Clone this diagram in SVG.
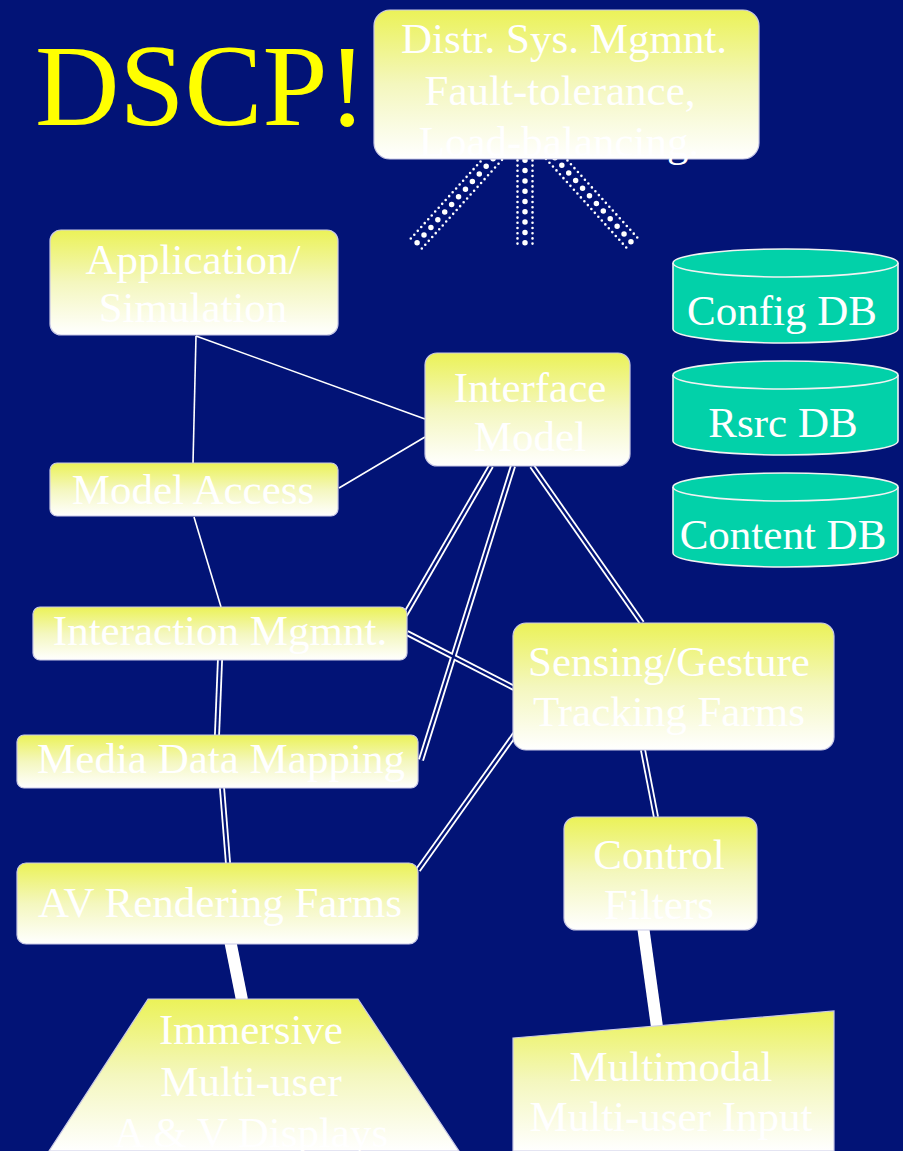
<svg xmlns="http://www.w3.org/2000/svg" width="903" height="1151" viewBox="0 0 903 1151">
  <defs>
    <linearGradient id="fade" x1="0" y1="0" x2="0" y2="1">
      <stop offset="0" stop-color="#EBF258"/>
      <stop offset="0.5" stop-color="#F4F7BE"/>
      <stop offset="1" stop-color="#FFFFFF"/>
    </linearGradient>
    <style>
      .node { fill: url(#fade); stroke: #C9C9E6; stroke-width: 1.2; }
      .lbl { font-family: "Liberation Serif", "Times New Roman", serif; font-size: 43px; fill: #FFFFFF; text-anchor: middle; }
      .db { fill: #02D1A9; stroke: #F2F2F2; stroke-width: 1.6; }
      .thin { stroke: #FFFFFF; stroke-width: 1.6; fill: none; }
      .dbl-out { stroke: #FFFFFF; stroke-width: 6; fill: none; }
      .dbl-in { stroke: #021376; stroke-width: 2.4; fill: none; }
      .bar { stroke: #FFFFFF; stroke-width: 12; fill: none; }
      .dot-big { stroke: #FFFFFF; stroke-width: 5.5; stroke-linecap: round; stroke-dasharray: 0 10.3; fill: none; }
      .dot-small { stroke: #FFFFFF; stroke-width: 2.6; stroke-linecap: round; stroke-dasharray: 0 5.2; fill: none; }
    </style>
  </defs>

  <rect x="0" y="0" width="903" height="1151" fill="#021376"/>

  <text x="35" y="125" font-family="'Liberation Serif', 'Times New Roman', serif" font-size="117" fill="#FFFF00">DSCP!</text>

  <g id="connectors">
    <!-- dotted ribbons below the management box -->
    <path class="dot-big" d="M500,151 L415,245"/>
    <path class="dot-small" d="M505.5,156 L420.5,250"/>
    <path class="dot-small" d="M494.5,146 L409.5,240"/>

    <path class="dot-big" d="M525,150 L525,246"/>
    <path class="dot-small" d="M517.5,150 L517.5,246"/>
    <path class="dot-small" d="M532.5,150 L532.5,246"/>

    <path class="dot-big" d="M548,150 L634,245"/>
    <path class="dot-small" d="M553.5,145 L639.5,240"/>
    <path class="dot-small" d="M542.5,155 L628.5,250"/>

    <!-- single lines -->
    <path class="thin" d="M196,336 L193,463"/>
    <path class="thin" d="M196,336 L425,419"/>
    <path class="thin" d="M339,488 L425,437"/>
    <path class="thin" d="M194,517 L221,607"/>

    <!-- double lines -->
    <g>
      <path class="dbl-out" d="M491,466 L405,615"/>
      <path class="dbl-out" d="M513,466 L421,760"/>
      <path class="dbl-out" d="M532,466 L642,623"/>
      <path class="dbl-out" d="M407,633 L514,688"/>
      <path class="dbl-out" d="M515,734 L418,870"/>
      <path class="dbl-out" d="M220,660 L217,735"/>
      <path class="dbl-out" d="M222,788 L228,863"/>
      <path class="dbl-out" d="M643,750 L656,817"/>
      <path class="dbl-in" d="M491,466 L405,615"/>
      <path class="dbl-in" d="M513,466 L421,760"/>
      <path class="dbl-in" d="M532,466 L642,623"/>
      <path class="dbl-in" d="M407,633 L514,688"/>
      <path class="dbl-in" d="M515,734 L418,870"/>
      <path class="dbl-in" d="M220,660 L217,735"/>
      <path class="dbl-in" d="M222,788 L228,863"/>
      <path class="dbl-in" d="M643,750 L656,817"/>
    </g>

    <!-- heavy links to output/input devices -->
    <path class="bar" d="M230,940 L242,1000"/>
    <path class="bar" d="M643,926 L657,1027"/>
  </g>

  <g id="distr-sys">
    <rect class="node" x="374" y="10" width="385" height="149" rx="16"/>
    <text class="lbl" x="564" y="53">Distr. Sys. Mgmnt.</text>
    <text class="lbl" x="560" y="105">Fault-tolerance,</text>
    <text class="lbl" x="559" y="156">Load-balancing.</text>
  </g>

  <g id="application">
    <rect class="node" x="50" y="230" width="288" height="105" rx="11"/>
    <text class="lbl" x="193" y="274">Application/</text>
    <text class="lbl" x="193" y="322">Simulation</text>
  </g>

  <g id="interface-model">
    <rect class="node" x="425" y="353" width="205" height="113" rx="12"/>
    <text class="lbl" x="530" y="402">Interface</text>
    <text class="lbl" x="530" y="451">Model</text>
  </g>

  <g id="model-access">
    <rect class="node" x="50" y="463" width="288" height="53" rx="7"/>
    <text class="lbl" x="193" y="504">Model Access</text>
  </g>

  <g id="interaction-mgmnt">
    <rect class="node" x="33" y="607" width="374" height="53" rx="7"/>
    <text class="lbl" x="220" y="645">Interaction Mgmnt.</text>
  </g>

  <g id="media-data-mapping">
    <rect class="node" x="17" y="735" width="401" height="53" rx="7"/>
    <text class="lbl" x="221" y="773">Media Data Mapping</text>
  </g>

  <g id="av-rendering">
    <rect class="node" x="17" y="863" width="401" height="81" rx="9"/>
    <text class="lbl" x="220" y="917">AV Rendering Farms</text>
  </g>

  <g id="sensing-gesture">
    <rect class="node" x="513" y="623" width="321" height="127" rx="13"/>
    <text class="lbl" x="669" y="676">Sensing/Gesture</text>
    <text class="lbl" x="669" y="726">Tracking Farms</text>
  </g>

  <g id="control-filters">
    <rect class="node" x="564" y="817" width="193" height="113" rx="12"/>
    <text class="lbl" x="659" y="869">Control</text>
    <text class="lbl" x="659" y="919">Filters</text>
  </g>

  <g id="av-displays">
    <polygon class="node" points="148,999 358,999 459,1151 49,1151" stroke="#FFFFFF"/>
    <text class="lbl" x="251" y="1044">Immersive</text>
    <text class="lbl" x="251" y="1096">Multi-user</text>
    <text class="lbl" x="251" y="1147">A &amp; V Displays</text>
  </g>

  <g id="multimodal-input">
    <polygon class="node" points="513,1038 834,1011 834,1151 513,1151" stroke="#FFFFFF"/>
    <text class="lbl" x="671" y="1081">Multimodal</text>
    <text class="lbl" x="671" y="1131">Multi-user Input</text>
  </g>

  <g id="config-db">
    <path class="db" d="M673,263 L673,329 A112.5,14 0 0 0 898,329 L898,263"/>
    <ellipse class="db" cx="785.5" cy="263" rx="112.5" ry="14"/>
    <text class="lbl" x="782" y="325">Config DB</text>
  </g>

  <g id="rsrc-db">
    <path class="db" d="M673,375 L673,441 A112.5,14 0 0 0 898,441 L898,375"/>
    <ellipse class="db" cx="785.5" cy="375" rx="112.5" ry="14"/>
    <text class="lbl" x="783" y="437">Rsrc DB</text>
  </g>

  <g id="content-db">
    <path class="db" d="M673,487 L673,553 A112.5,14 0 0 0 898,553 L898,487"/>
    <ellipse class="db" cx="785.5" cy="487" rx="112.5" ry="14"/>
    <text class="lbl" x="783" y="549">Content DB</text>
  </g>
</svg>
